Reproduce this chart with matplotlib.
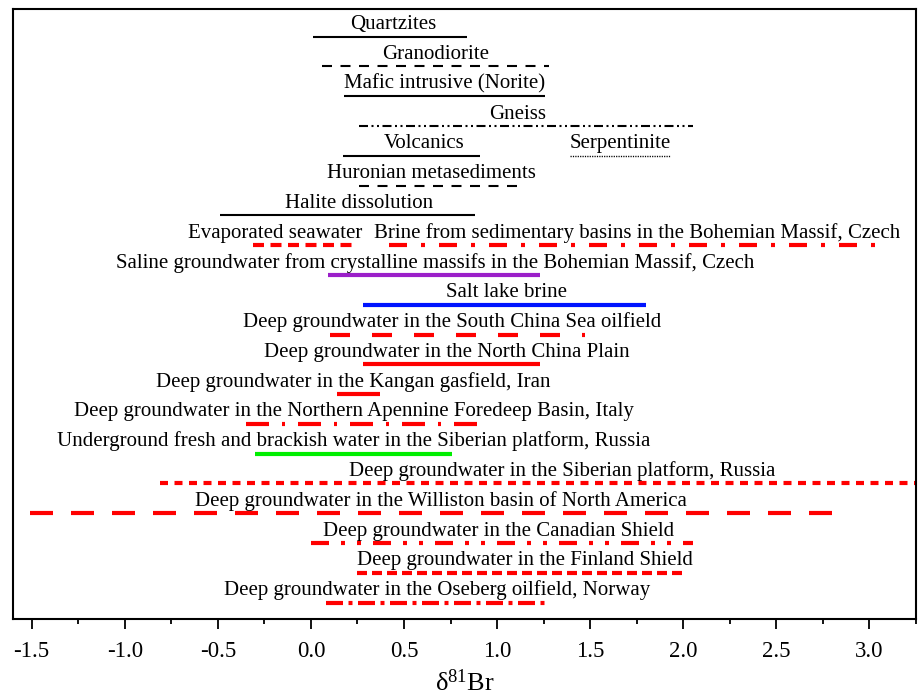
import matplotlib
matplotlib.use("Agg")
import matplotlib.pyplot as plt

plt.rcParams['font.family'] = ['Liberation Serif', 'DejaVu Serif']
plt.rcParams['mathtext.fontset'] = 'custom'
plt.rcParams['mathtext.rm'] = 'Liberation Serif'
plt.rcParams['mathtext.it'] = 'Liberation Serif:italic'
plt.rcParams['lines.scale_dashes'] = False

# ---- data: ranges of delta81Br (row index from top) ----
labels = [
    "Quartzites",
    "Granodiorite",
    "Mafic intrusive (Norite)",
    "Gneiss",
    "Volcanics",
    "Serpentinite",
    "Huronian metasediments",
    "Halite dissolution",
    "Evaporated seawater",
    "Brine from sedimentary basins in the Bohemian Massif, Czech",
    "Saline groundwater from crystalline massifs in the Bohemian Massif, Czech",
    "Salt lake brine",
    "Deep groundwater in the South China Sea oilfield",
    "Deep groundwater in the North China Plain",
    "Deep groundwater in the Kangan gasfield, Iran",
    "Deep groundwater in the Northern Apennine Foredeep Basin, Italy",
    "Underground fresh and brackish water in the Siberian platform, Russia",
    "Deep groundwater in the Siberian platform, Russia",
    "Deep groundwater in the Williston basin of North America",
    "Deep groundwater in the Canadian Shield",
    "Deep groundwater in the Finland Shield",
    "Deep groundwater in the Oseberg oilfield, Norway",
]
rows = [1, 2, 3, 4, 5, 5, 6, 7, 8, 8, 9, 10, 11, 12, 13, 14, 15, 16, 17, 18, 19, 20]
x_min = [0.01, 0.06, 0.18, 0.26, 0.17, 1.39, 0.26, -0.49, -0.31, 0.42, 0.09, 0.28,
         0.10, 0.28, 0.14, -0.35, -0.30, -0.81, -1.51, 0.00, 0.25, 0.08]
x_max = [0.84, 1.28, 1.26, 2.05, 0.91, 1.93, 1.13, 0.88, 0.24, 3.07, 1.23, 1.80,
         1.47, 1.23, 0.37, 0.89, 0.76, 3.30, 2.85, 2.05, 2.02, 1.27]

# ---- layout / style (not data) ----
label_x = [0.44, 0.67, 0.72, 1.11, 0.61, 1.66, 0.65, 0.26, -0.19, 1.75, 0.67, 1.05,
           0.76, 0.73, 0.23, 0.23, 0.23, 1.35, 0.70, 1.01, 1.15, 0.68]

def px(*v):
    return tuple(a * 0.72 for a in v)

K, R = 'black', '#ff0000'
styles = [
    dict(color=K, lw=1.5, ls='-'),
    dict(color=K, lw=1.5, ls=(0, px(10, 8.5))),
    dict(color=K, lw=1.5, ls='-'),
    dict(color=K, lw=1.5, ls=(0, px(9, 3.5, 2, 3.5, 2, 3.5))),
    dict(color=K, lw=1.5, ls='-'),
    dict(color=K, lw=1.0, ls=(0, px(1.2, 1.2))),
    dict(color=K, lw=1.5, ls=(0, px(10, 8.5))),
    dict(color=K, lw=1.5, ls='-'),
    dict(color=R, lw=3, ls=(0, px(11, 6.5))),
    dict(color=R, lw=3, ls=(0, px(18, 14, 4, 14))),
    dict(color='#9b1fc9', lw=3, ls='-'),
    dict(color='#0014ff', lw=3, ls='-'),
    dict(color=R, lw=3, ls=(0, px(20, 22))),
    dict(color=R, lw=3, ls='-'),
    dict(color=R, lw=3, ls='-'),
    dict(color=R, lw=3, ls=(0, px(23, 13, 3, 13))),
    dict(color='#00ee00', lw=3, ls='-'),
    dict(color=R, lw=3, ls=(0, px(8, 6.5))),
    dict(color=R, lw=3, ls=(0, px(23, 18))),
    dict(color=R, lw=3, ls=(0, px(18, 12, 4, 12, 4, 12))),
    dict(color=R, lw=3, ls=(0, px(10, 5))),
    dict(color=R, lw=3, ls=(0, px(17, 5.5, 4, 5.5))),
]

W, H = 918, 697
fig = plt.figure(figsize=(W / 100, H / 100), dpi=100)
ax = fig.add_axes([13 / W, (H - 619) / H, (916 - 13) / W, (619 - 9) / H])

for lab, r, a, b, lx, st in zip(labels, rows, x_min, x_max, label_x, styles):
    ax.plot([a, b], [r, r], solid_capstyle='butt', dash_capstyle='butt', **st)
    ax.text(lx, r - 0.25, lab, ha='center', va='baseline', fontsize=15)

ax.set_xlim(-1.6, 3.245)
ax.set_ylim(20.55, 0.07)
ax.set_xticks([-1.5, -1.0, -0.5, 0.0, 0.5, 1.0, 1.5, 2.0, 2.5, 3.0])
ax.set_xticks([-1.25, -0.75, -0.25, 0.25, 0.75, 1.25, 1.75, 2.25, 2.75, 3.25], minor=True)
ax.set_xticklabels(['-1.5', '-1.0', '-0.5', '0.0', '0.5', '1.0', '1.5', '2.0', '2.5', '3.0'])
ax.tick_params(axis='x', which='major', direction='out', length=7, width=1.3, labelsize=16.5, pad=9)
ax.tick_params(axis='x', which='minor', direction='out', length=3.5, width=1.3)
ax.set_yticks([])
for s in ax.spines.values():
    s.set_linewidth(1.5)
ax.set_xlabel('δ$^{81}$Br', fontsize=19, labelpad=5)

fig.savefig('out.png', dpi=100)
